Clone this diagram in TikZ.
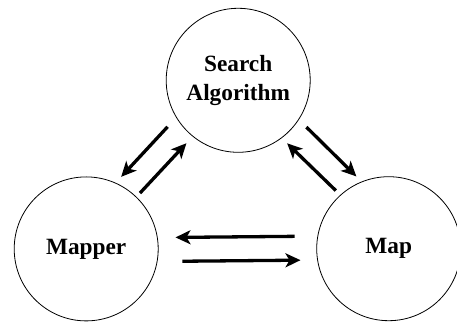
\documentclass[tikz,border=0pt]{standalone}
\usepackage{fontspec}
\setmainfont{Liberation Serif}
\usetikzlibrary{arrows.meta}

\begin{document}
\begin{tikzpicture}[x=1pt,y=1pt,
	unit/.style={circle,draw,line width=0.8pt,minimum size=144pt,inner sep=0pt,align=center,font=\fontsize{23.3}{28.7}\selectfont\bfseries},
	link/.style={-{Stealth[length=15pt,width=14pt,inset=4pt]},line width=3.3pt}]
	\useasboundingbox (0,0) rectangle (457,323);

	%circles
	\node[unit] (search) at (238.2,242.7) {Search\\Algorithm};
	\node[unit] (mapper) at (86.2,74.1)   {Mapper};
	\node[unit] (map)    at (388.7,74.3)  {Map};

	%arrows
	\draw[link,shorten <=12.6pt,shorten >=8.1pt]  (search.211.8)--(mapper.66.9);	%search--mapper
	\draw[link,shorten <=5.1pt,shorten >=9.1pt]   (mapper.46.7)--(search.231.7);	%mapper--search
	\draw[link,shorten <=10.5pt,shorten >=7.3pt]  (search.327)--(map.112.5);		%search--map
	\draw[link,shorten <=6.2pt,shorten >=7.5pt]   (map.132.1)--(search.307);		%map--search
	\draw[link,shorten <=22.7pt,shorten >=17.8pt] (map.170.6)--(mapper.9.4);		%map--mapper
	\draw[link,shorten <=24.8pt,shorten >=16.7pt] (mapper.350.3)--(map.189.7);	%mapper--map
\end{tikzpicture}
\end{document}
